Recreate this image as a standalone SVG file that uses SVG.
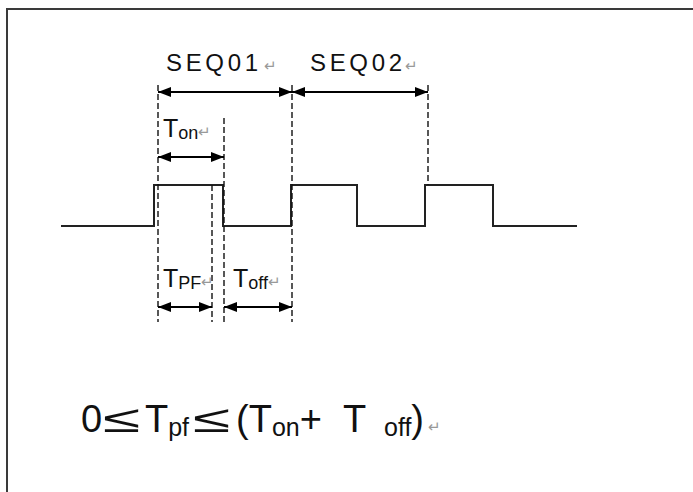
<svg xmlns="http://www.w3.org/2000/svg" width="693" height="492" viewBox="0 0 693 492">
<defs>
<marker id="ah" viewBox="0 0 13 10" refX="13" refY="5" markerWidth="13" markerHeight="10" markerUnits="userSpaceOnUse" orient="auto-start-reverse">
<path d="M0,0 L13,5 L0,10 Z" fill="#000"/>
</marker>
<style>
.frame{stroke:#3a3a3a;stroke-width:2;fill:none}
.wave{stroke:#222;stroke-width:2;fill:none}
.dash{stroke:#111;stroke-width:1.4;stroke-dasharray:6 3;fill:none}
.arr{stroke:#000;stroke-width:2;fill:none;marker-start:url(#ah);marker-end:url(#ah)}
text{font-family:"Liberation Sans",Arial,sans-serif;fill:#111}
.lbl{font-size:24px}
.t{font-size:25px}
.sub{font-size:18px}
.ret{fill:#999;font-size:15px}
.f{font-size:38px}
.fs{font-size:25px}
</style>
</defs>
<rect width="693" height="492" fill="#fff"/>
<path class="frame" d="M7,492 V9 H693"/>
<g id="waveform">
<path class="wave" d="M61,226 H154 V185 H223 V226 H291 V185 H357 V226 H425 V185 H493 V226 H577"/>
</g>
<g id="guides">
<line class="dash" x1="158" y1="85" x2="158" y2="322"/>
<line class="dash" x1="224" y1="118" x2="224" y2="322"/>
<line class="dash" x1="292" y1="85" x2="292" y2="322"/>
<line class="dash" x1="428" y1="85" x2="428" y2="185"/>
<line class="dash" x1="212" y1="185" x2="212" y2="322"/>
</g>
<g id="connectors">
<line class="arr" x1="158" y1="92" x2="292" y2="92"/>
<line class="arr" x1="292" y1="92" x2="428" y2="92"/>
<line class="arr" x1="158" y1="157" x2="224" y2="157"/>
<line class="arr" x1="158" y1="307" x2="212" y2="307"/>
<line class="arr" x1="224" y1="307" x2="292" y2="307"/>
</g>
<g id="seq01">
<text class="lbl" x="166" y="71" textLength="92" lengthAdjust="spacing">SEQ01</text>
<text class="ret" x="264" y="71">↵</text>
</g>
<g id="seq02">
<text class="lbl" x="310" y="71" textLength="92" lengthAdjust="spacing">SEQ02</text>
<text class="ret" x="405" y="71">↵</text>
</g>
<g id="ton">
<text class="t" x="163" y="137">T<tspan class="sub" dy="2">on</tspan><tspan class="ret" dy="-2">↵</tspan></text>
</g>
<g id="tpf">
<text class="t" x="163" y="287">T<tspan class="sub" dy="2">PF</tspan><tspan class="ret" dy="-2">↵</tspan></text>
</g>
<g id="toff">
<text class="t" x="233" y="287">T<tspan class="sub" dy="2">off</tspan><tspan class="ret" dy="-2">↵</tspan></text>
</g>
<g id="formula">
<text class="f" x="81" y="432">0</text>
<text class="f" transform="translate(103,432) scale(1.8,1)">≤</text>
<text class="f" x="145" y="432">T<tspan class="fs" dy="4">pf</tspan></text>
<text class="f" transform="translate(193,432) scale(1.8,1)">≤</text>
<text class="f" x="236" y="432">(T<tspan class="fs" dy="4">on</tspan><tspan dy="-4">+</tspan></text>
<text class="f" x="343" y="432">T<tspan class="fs" x="384" dy="4">off</tspan><tspan dy="-4">)</tspan><tspan class="ret" font-size="16px" x="428">↵</tspan></text>
</g>
</svg>
